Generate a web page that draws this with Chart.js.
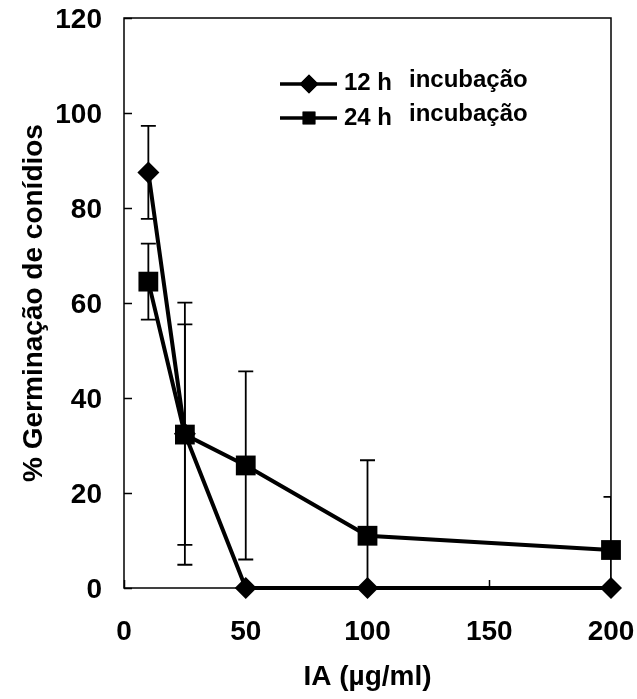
<!DOCTYPE html>
<html>
<head>
<meta charset="utf-8">
<script src="https://cdn.jsdelivr.net/npm/chart.js@4/dist/chart.umd.min.js"></script>
<style>
  html, body { margin: 0; padding: 0; background: #fff; }
  canvas { display: block; }
</style>
</head>
<body>
<canvas id="c" width="637" height="699"></canvas>
<script>
// ---- data ----
const concentrations = [10, 25, 50, 100, 200];           // IA (µg/ml)
const germ12h = [87.5, 32.5, 0, 0, 0];                     // % germination, 12 h
const err12h  = [9.8, 27.6, 0, 0, 0];
const germ24h = [64.5, 32.3, 25.8, 11, 8];                 // % germination, 24 h
const err24h  = [8, 23.2, 19.8, 15.9, 11.2];
const seriesLabels = ['12 h', '24 h'];
const seriesSuffix = ['incubação', 'incubação'];
const xTickValues = [0, 50, 100, 150, 200];
const yTickValues = [0, 20, 40, 60, 80, 100, 120];
const xTitle = 'IA (µg/ml)';
const yTitle = '% Germinação de conídios';

const FONT = 'Liberation Sans, Arial, sans-serif';

const errors = [err12h, err24h];

const framePlugin = {
  id: 'frame',
  beforeDatasetsDraw(chart) {
    const {ctx, chartArea: a, scales: {x, y}} = chart;
    ctx.save();
    ctx.strokeStyle = '#000';
    ctx.lineWidth = 1.5;
    ctx.strokeRect(a.left, a.top, a.right - a.left, a.bottom - a.top);
    // inward tick marks
    ctx.beginPath();
    yTickValues.forEach(v => {
      const py = Math.round(y.getPixelForValue(v)) + 0.5;
      ctx.moveTo(a.left, py); ctx.lineTo(a.left + 8, py);
    });
    xTickValues.forEach(v => {
      const px = Math.round(x.getPixelForValue(v)) + 0.5;
      ctx.moveTo(px, a.bottom); ctx.lineTo(px, a.bottom - 8);
    });
    ctx.stroke();
    // error bars
    ctx.beginPath();
    ctx.rect(a.left, a.top, a.right - a.left, a.bottom - a.top);
    ctx.clip();
    ctx.lineWidth = 1.8;
    chart.data.datasets.forEach((ds, i) => {
      ds.data.forEach((pt, j) => {
        const e = errors[i][j];
        if (!e) return;
        const px = x.getPixelForValue(pt.x);
        const hi = y.getPixelForValue(pt.y + e);
        const lo = y.getPixelForValue(pt.y - e);
        ctx.beginPath();
        ctx.moveTo(px, hi); ctx.lineTo(px, lo);
        ctx.moveTo(px - 7.5, hi); ctx.lineTo(px + 7.5, hi);
        ctx.moveTo(px - 7.5, lo); ctx.lineTo(px + 7.5, lo);
        ctx.stroke();
      });
    });
    ctx.restore();
  },
  afterDraw(chart) {
    const {ctx} = chart;
    const rows = [
      {ly: 84, by1: 90, by2: 87},
      {ly: 118, by1: 125, by2: 121}
    ];
    ctx.save();
    chart.data.datasets.forEach((ds, i) => {
      const r = rows[i];
      ctx.strokeStyle = '#000';
      ctx.lineWidth = 3.5;
      ctx.beginPath();
      ctx.moveTo(280, r.ly); ctx.lineTo(337, r.ly);
      ctx.stroke();
      ctx.fillStyle = '#000';
      Chart.helpers.drawPoint(ctx, {pointStyle: ds.pointStyle, radius: i === 0 ? 9.5 : 9, borderWidth: 0}, 309, r.ly);
      ctx.fill();
      ctx.font = 'bold 24px ' + FONT;
      ctx.textBaseline = 'alphabetic';
      ctx.textAlign = 'left';
      ctx.fillText(seriesLabels[i], 344, r.by1);
      ctx.fillText(seriesSuffix[i], 409, r.by2);
    });
    ctx.restore();
  }
};

const tickFont = {family: FONT, size: 28, weight: 'bold'};

new Chart(document.getElementById('c'), {
  type: 'line',
  data: {
    datasets: [
      {
        label: seriesLabels[0] + ' ' + seriesSuffix[0],
        data: concentrations.map((c, i) => ({x: c, y: germ12h[i]})),
        borderColor: '#000', backgroundColor: '#000', borderWidth: 4,
        pointStyle: 'rectRot', pointRadius: 11, pointBorderWidth: 0,
        pointBackgroundColor: '#000', tension: 0, clip: false
      },
      {
        label: seriesLabels[1] + ' ' + seriesSuffix[1],
        data: concentrations.map((c, i) => ({x: c, y: germ24h[i]})),
        borderColor: '#000', backgroundColor: '#000', borderWidth: 4,
        pointStyle: 'rect', pointRadius: 14, pointBorderWidth: 0,
        pointBackgroundColor: '#000', tension: 0, clip: false
      }
    ]
  },
  options: {
    responsive: false,
    animation: false,
    devicePixelRatio: 1,
    layout: {padding: {top: 18, right: 26, left: 0, bottom: 0}},
    plugins: {legend: {display: false}, tooltip: {enabled: false}},
    scales: {
      x: {
        type: 'linear', min: 0, max: 200,
        afterBuildTicks(s) { s.ticks = xTickValues.map(v => ({value: v})); },
        afterFit(s) { s.height = 111; s.paddingLeft = 0; s.paddingRight = 0; },
        grid: {display: false, drawTicks: false}, border: {display: false},
        ticks: {font: tickFont, color: '#000', padding: 27, maxRotation: 0},
        title: {display: true, text: xTitle, font: tickFont, color: '#000', padding: {top: 0, bottom: 5}}
      },
      y: {
        type: 'linear', min: 0, max: 120,
        afterBuildTicks(s) { s.ticks = yTickValues.map(v => ({value: v})); },
        afterFit(s) { s.width = 124; s.paddingTop = 0; s.paddingBottom = 0; },
        grid: {display: false, drawTicks: false}, border: {display: false},
        ticks: {font: tickFont, color: '#000', padding: 22, labelOffset: 2},
        title: {display: true, text: yTitle, font: tickFont, color: '#000', padding: {top: 17, bottom: 0}}
      }
    }
  },
  plugins: [framePlugin]
});
</script>
</body>
</html>
